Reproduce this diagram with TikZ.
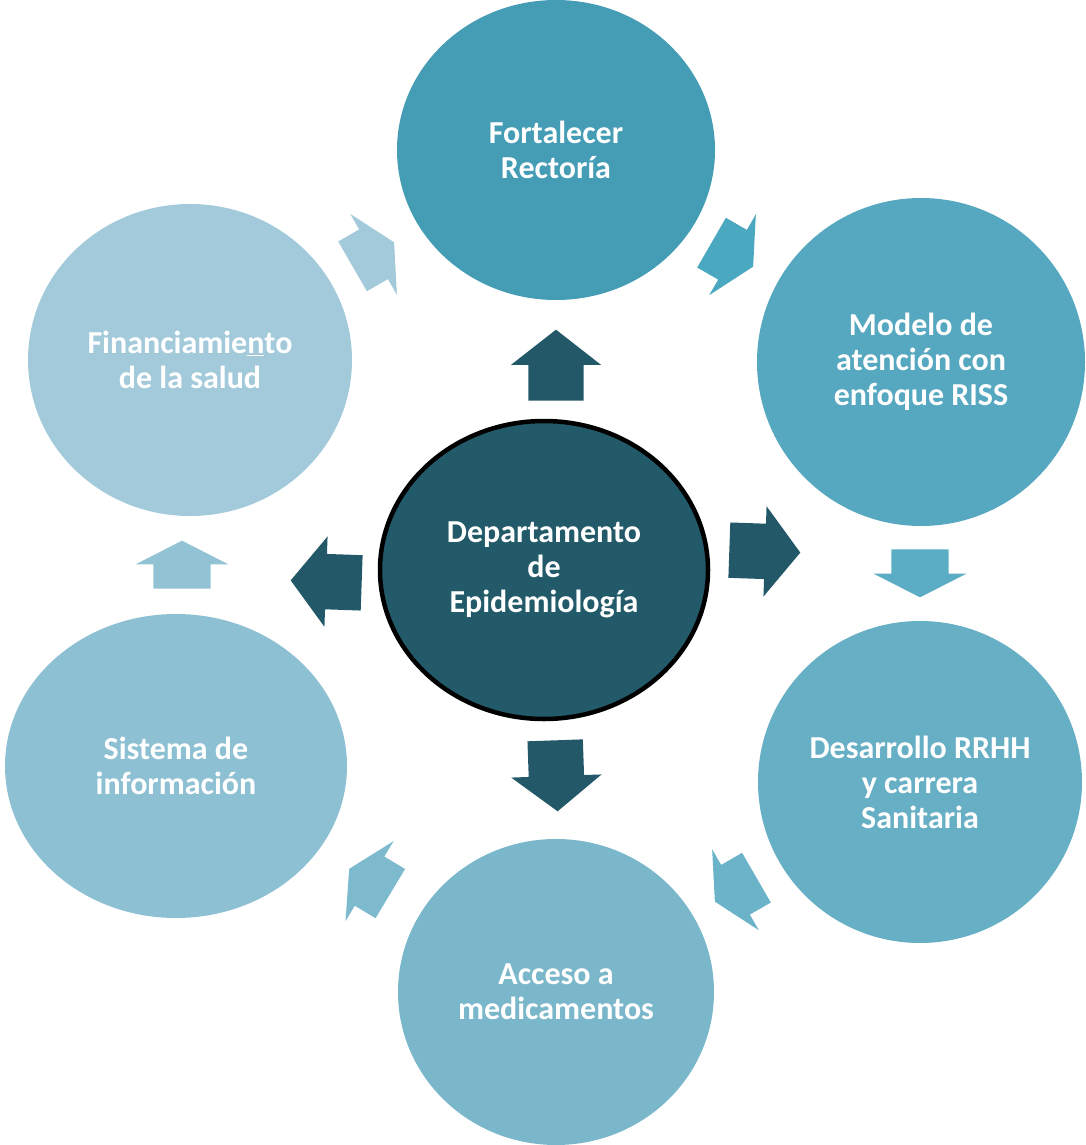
\documentclass[tikz,border=0pt]{standalone}
\usepackage{fontspec}
\setmainfont{Carlito}
\usepackage{xcolor}
\usetikzlibrary{shapes.geometric,shapes.arrows}

\definecolor{epidark}{HTML}{225A69}
\definecolor{arrowdark}{HTML}{225868}
\definecolor{rectoria}{HTML}{449CB5}
\definecolor{modelo}{HTML}{56A7C0}
\definecolor{rrhh}{HTML}{67AFC5}
\definecolor{acceso}{HTML}{7BB7CB}
\definecolor{sistema}{HTML}{8EC0D3}
\definecolor{financ}{HTML}{A2CADB}
\definecolor{ringa}{HTML}{4AA8C0}
\definecolor{ringb}{HTML}{5AADC4}
\definecolor{ringc}{HTML}{6AB3C9}
\definecolor{ringd}{HTML}{7DBACE}
\definecolor{ringe}{HTML}{92C3D5}
\definecolor{ringf}{HTML}{A3CADB}

\tikzset{
  circ/.style={ellipse,inner sep=0pt,text=white,align=center,
    font=\fontsize{32}{35}\selectfont\bfseries},
  darkarrow/.style={single arrow,fill=arrowdark,inner xsep=0pt,inner ysep=27.5pt,
    minimum height=71pt,single arrow head extend=17.5pt,single arrow tip angle=104},
  lightarrow/.style={single arrow,inner xsep=0pt,inner ysep=28.5pt,
    minimum height=48pt,single arrow head extend=18pt,single arrow tip angle=126}
}

\begin{document}
\begin{tikzpicture}[x=1pt,y=-1pt]
\useasboundingbox (0,0) rectangle (1085,1145);
% centre
\node[circ,fill=epidark,draw=black,line width=4.5pt,minimum width=328pt,minimum height=298pt]
  (epi) at (544,570) {Departamento\\de\\Epidemiología};
% outer ring
\node[circ,fill=rectoria,minimum width=318pt,minimum height=300pt] (rect) at (556,150) {Fortalecer\\Rectoría};
\node[circ,fill=modelo,minimum width=328pt,minimum height=328pt] (mod) at (921,362) {Modelo de\\atención con\\enfoque RISS};
\node[circ,fill=rrhh,minimum width=324pt,minimum height=322pt] (rrhh) at (920,782) {Desarrollo RRHH\\y carrera\\Sanitaria};
\node[circ,fill=acceso,minimum width=316pt,minimum height=306pt] (acc) at (556,992) {Acceso a\\medicamentos};
\node[circ,fill=sistema,minimum width=342pt,minimum height=304pt] (sis) at (176,766) {Sistema de\\información};
\node[circ,fill=financ,minimum width=324pt,minimum height=312pt] (fin) at (190,360) {Financiamie\underline{n}to\\de la salud};
% arrows out of the centre
\node[darkarrow,rotate=90] (aup) at (556,376) {};
\node[darkarrow,rotate=-2] (aright) at (754,551) {};
\node[darkarrow,rotate=-88] (adown) at (556,765) {};
\node[darkarrow,rotate=178] (aleft) at (337,582) {};
% arrows round the ring
\node[lightarrow,fill=ringa,rotate=-30] (a1) at (726,251) {};
\node[lightarrow,fill=ringb,rotate=-90] (a2) at (920,566) {};
\node[lightarrow,fill=ringc,rotate=-150] (a3) at (742,886) {};
\node[lightarrow,fill=ringd,rotate=149] (a4) at (376,885) {};
\node[lightarrow,fill=ringe,rotate=90] (a5) at (182,572) {};
\node[lightarrow,fill=ringf,rotate=30] (a6) at (367,258) {};
\end{tikzpicture}
\end{document}
